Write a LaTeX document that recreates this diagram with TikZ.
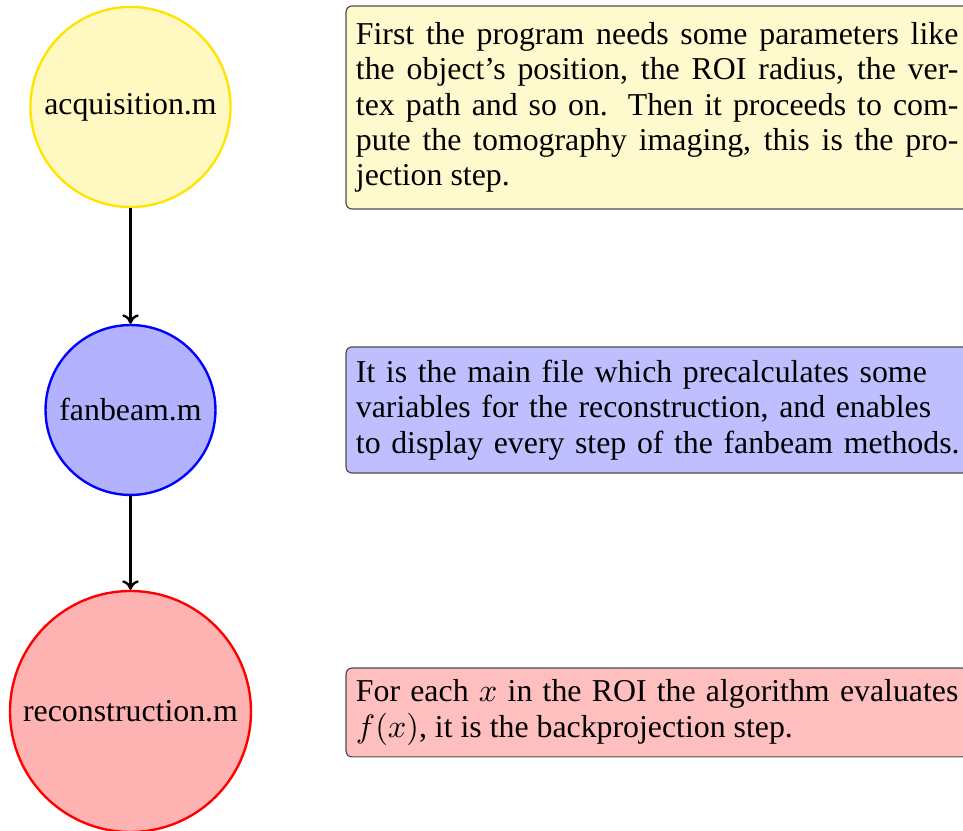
\documentclass[tikz,border=0pt]{standalone}
\usepackage{fontspec}
\setmainfont{Liberation Serif}
\usetikzlibrary{arrows.meta}

\definecolor{acqfill}{RGB}{255,248,192}
\definecolor{acqline}{RGB}{255,228,0}
\definecolor{acqnote}{RGB}{255,250,206}
\definecolor{fanfill}{RGB}{178,178,255}
\definecolor{fannote}{RGB}{191,191,255}
\definecolor{recfill}{RGB}{255,178,178}
\definecolor{recnote}{RGB}{255,191,191}

\newcommand{\notefont}{\fontsize{10.75}{11.93}\selectfont}

\tikzset{
  module/.style={circle, thick, inner sep=0pt, font=\notefont},
  note/.style={draw=black!70, line width=0.4pt, rounded corners=2pt,
    anchor=west, inner xsep=3.33pt, inner ysep=0pt, text width=203.5pt,
    font=\notefont},
  flow/.style={-{To[length=3.2pt,width=5.6pt]}, thick}
}

\begin{document}
\begin{tikzpicture}[x=0.3378pt, y=-0.3378pt]
  \useasboundingbox (0,0) rectangle (963,831);
  \clip (0,0) rectangle (963,831);

  % program files
  \node[module, draw=acqline, fill=acqfill, minimum size=67.6pt] (acq) at (130.5,107) {acquisition.m};
  \node[module, draw=blue, fill=fanfill, minimum size=57.4pt] (fan) at (130.5,410) {fanbeam.m};
  \node[module, draw=red, fill=recfill, minimum size=81.4pt] (rec) at (130.5,711.5) {reconstruction.m};

  \draw[flow] (acq) -- (fan);
  \draw[flow] (fan) -- (rec);

  % descriptions
  \node[note, fill=acqnote, minimum height=68.6pt, align=justify] (acqtxt) at (345.5,107.5)
    {First the program needs some parameters like\linebreak
     the object's position, the ROI radius, the ver-\linebreak
     tex path and so on. Then it proceeds to com-\linebreak
     pute the tomography imaging, this is the pro-\linebreak
     jection step.};
  \node[note, fill=fannote, minimum height=42.6pt, align=left, text width=210pt] (fantxt) at (345.5,410)
    {\mbox{It is the main file which precalculates some}\\
     \mbox{variables for the reconstruction, and enables}\\
     \mbox{to display every step of the fanbeam methods.}};
  \node[note, fill=recnote, minimum height=30pt, align=justify] (rectxt) at (345.5,712.5)
    {For each $x$ in the ROI the algorithm evaluates\linebreak
     $f(x)$, it is the backprojection step.};
\end{tikzpicture}
\end{document}
